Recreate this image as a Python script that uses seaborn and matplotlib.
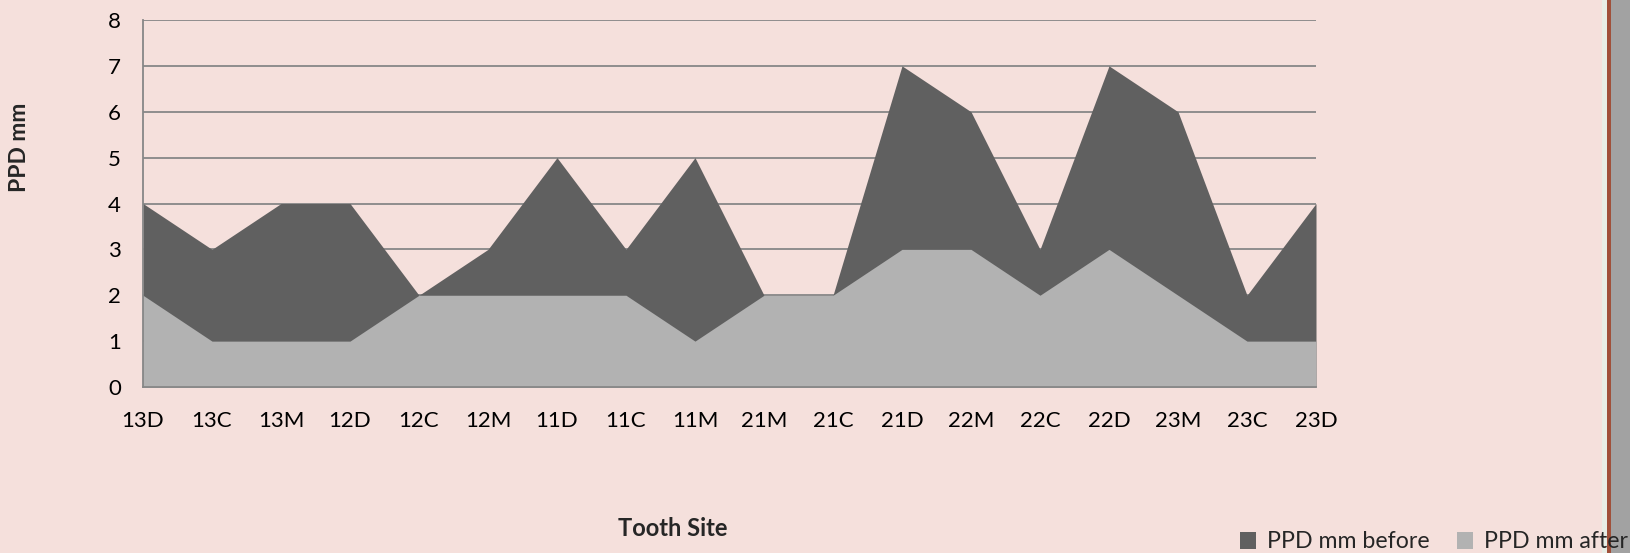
import numpy as np
import matplotlib
matplotlib.use("Agg")
import matplotlib.pyplot as plt
import matplotlib.patches as mpatches
import seaborn as sns

sites = ["13D", "13C", "13M", "12D", "12C", "12M", "11D", "11C", "11M",
         "21M", "21C", "21D", "22M", "22C", "22D", "23M", "23C", "23D"]
ppd_before = [4, 3, 4, 4, 2, 3, 5, 3, 5, 2, 2, 7, 6, 3, 7, 6, 2, 4]
ppd_after = [2, 1, 1, 1, 2, 2, 2, 2, 1, 2, 2, 3, 3, 2, 3, 2, 1, 1]
yticks = list(range(0, 9))

bg = "#F5E0DC"
dark = "#606060"
light = "#B2B2B2"
grid = "#878787"
fs = 16

sns.set_theme(style="white")
plt.rcParams["font.family"] = ["Lato", "DejaVu Sans"]

fig = plt.figure(figsize=(16.30, 5.53), dpi=100, facecolor=bg)
ax = fig.add_axes([143 / 1630, 1 - 387 / 553, (1316 - 143) / 1630, (387 - 20) / 553])
ax.set_facecolor(bg)

x = np.arange(len(sites))
ax.fill_between(x, 0, ppd_before, color=dark, linewidth=0, label="PPD mm before", zorder=2)
ax.fill_between(x, 0, ppd_after, color=light, linewidth=0, label="PPD mm after", zorder=3)

ax.set_xlim(0, len(sites) - 1)
ax.set_ylim(0, 8)
ax.set_yticks(yticks)
ax.set_xticks(x)
ax.set_xticklabels(sites)
for y in yticks[1:]:
    ax.axhline(y, color=grid, linewidth=1.3, zorder=1)

for s in ["top", "right"]:
    ax.spines[s].set_visible(False)
for s in ["left", "bottom"]:
    ax.spines[s].set_color(grid)
    ax.spines[s].set_linewidth(1.3)
    ax.spines[s].set_zorder(4)

ax.tick_params(axis="both", which="major", direction="out", length=8, width=1.3,
               color=grid, labelsize=fs, labelcolor="black")
ax.tick_params(axis="x", pad=9)
ax.tick_params(axis="y", pad=8)

fig.text(20 / 1630, 1 - 147 / 553, "PPD mm", rotation=90, ha="center", va="center",
         fontsize=fs + 0.5, fontweight="bold")
fig.text(673 / 1630, 1 - 528 / 553, "Tooth Site", ha="center", va="center",
         fontsize=fs + 1, fontweight="bold")

# right border strip
fig.add_artist(mpatches.Rectangle((1602 / 1630, 0), 5 / 1630, 1, transform=fig.transFigure,
                                  facecolor="#E8EEE6", edgecolor="none", zorder=0))
fig.add_artist(mpatches.Rectangle((1607 / 1630, 0), 4 / 1630, 1, transform=fig.transFigure,
                                  facecolor="#A0503A", edgecolor="none", zorder=0))
fig.add_artist(mpatches.Rectangle((1611 / 1630, 0), 19 / 1630, 1, transform=fig.transFigure,
                                  facecolor="#A2A2A2", edgecolor="none", zorder=0))

handles, labels = ax.get_legend_handles_labels()
leg = fig.legend(handles, labels, loc="center left", bbox_to_anchor=(1240 / 1630, 1 - 542 / 553),
                 ncol=2, frameon=False, fontsize=fs + 0.7, handlelength=0.7, handleheight=0.7,
                 handletextpad=0.45, columnspacing=1.2, borderpad=0, borderaxespad=0)
leg.set_zorder(5)

fig.savefig("out.png", dpi=100, facecolor=bg)
